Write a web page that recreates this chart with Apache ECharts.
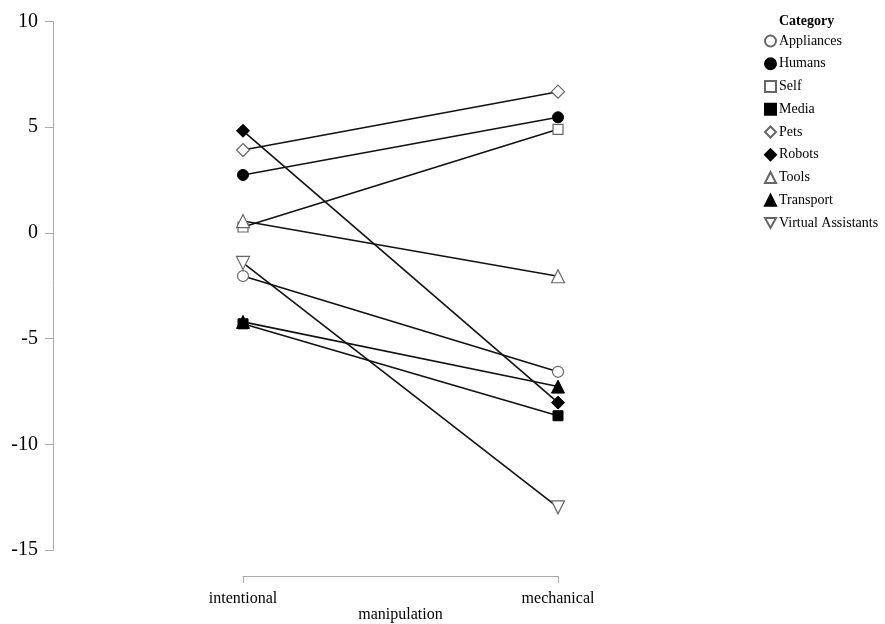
<!DOCTYPE html>
<html>
<head>
<meta charset="utf-8">
<script src="https://cdn.jsdelivr.net/npm/echarts@6/dist/echarts.min.js"></script>
<style>
  html, body { margin: 0; padding: 0; background: #fff; }
  #main { width: 885px; height: 624px; }
</style>
</head>
<body>
<div id="main"></div>
<script>
var manipulations = ['intentional', 'mechanical'];
var categories = ['Appliances', 'Humans', 'Self', 'Media', 'Pets', 'Robots', 'Tools', 'Transport', 'Virtual Assistants'];
// values: [intentional, mechanical]
var appliances = [-2.04, -6.57];
var humans = [2.74, 5.47];
var self = [0.28, 4.90];
var media = [-4.3, -8.65];
var pets = [3.92, 6.68];
var robots = [4.83, -8.03];
var tools = [0.56, -2.05];
var transport = [-4.21, -7.27];
var virtualAssistants = [-1.42, -12.98];
var yTicks = [-15, -10, -5, 0, 5, 10];

var seriesValues = [appliances, humans, self, media, pets, robots, tools, transport, virtualAssistants];
var downTriangle = 'path://M0,0 L10,0 L5,9 Z';
var symbols = ['circle', 'circle', 'rect', 'rect', 'diamond', 'diamond', 'triangle', 'triangle', downTriangle];
var filled = [false, true, false, true, false, true, false, true, false];
var sizes = [11, 11, 10, 10, 13, 13, 13, 13, 13];

var serif = '"Liberation Serif", "Times New Roman", serif';
var myChart = echarts.init(document.getElementById('main'));

var series = categories.map(function (name, i) {
  return {
    name: name,
    type: 'line',
    data: seriesValues[i],
    symbol: symbols[i],
    symbolSize: sizes[i],
    showAllSymbol: true,
    lineStyle: { color: '#111', width: 1.6 },
    itemStyle: filled[i]
      ? { color: '#000', borderColor: '#000', borderWidth: 1 }
      : { color: '#fff', borderColor: '#666', borderWidth: 1.2 },
    emphasis: { disabled: true },
    animation: false
  };
});

var option = {
  animation: false,
  title: {
    text: 'Category',
    left: 774,
    top: 9,
    textStyle: { fontFamily: serif, fontSize: 14, fontWeight: 'bold', color: '#000' }
  },
  legend: {
    orient: 'vertical',
    left: 759,
    top: 29,
    itemWidth: 11,
    itemHeight: 11,
    itemGap: 8.75,
    selectedMode: false,
    textStyle: { fontFamily: serif, fontSize: 14, color: '#000', padding: [0, 0, 0, -2] },
    data: categories.map(function (name, i) {
      return { name: name, icon: symbols[i] };
    })
  },
  grid: { left: 243, right: 327, top: 21.5, bottom: 74, containLabel: false, outerBoundsMode: 'none' },
  xAxis: {
    type: 'category',
    data: manipulations,
    boundaryGap: false,
    offset: 26,
    name: 'manipulation',
    nameLocation: 'middle',
    nameGap: 31,
    nameMoveOverlap: false,
    nameTextStyle: { fontFamily: serif, fontSize: 16, color: '#000' },
    axisLine: { onZero: false, lineStyle: { color: '#aaa', width: 1 } },
    axisTick: { alignWithLabel: true, length: 7, lineStyle: { color: '#aaa' } },
    axisLabel: { fontFamily: serif, fontSize: 16, color: '#000', margin: 15 },
    splitLine: { show: false }
  },
  yAxis: {
    type: 'value',
    min: yTicks[0],
    max: yTicks[yTicks.length - 1],
    interval: 5,
    offset: 190,
    axisLine: { show: true, lineStyle: { color: '#aaa', width: 1 } },
    axisTick: { show: true, length: 8, lineStyle: { color: '#aaa' } },
    axisLabel: { fontFamily: serif, fontSize: 20, color: '#000', margin: 15 },
    splitLine: { show: false }
  },
  series: series
};
myChart.setOption(option);
</script>
</body>
</html>
